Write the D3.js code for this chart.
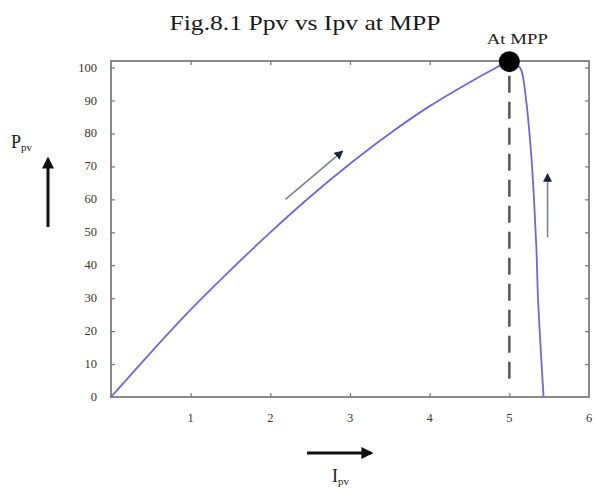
<!DOCTYPE html>
<html>
<head>
<meta charset="utf-8">
<script src="https://cdn.jsdelivr.net/npm/d3@7"></script>
<style>
  body { margin: 0; background: #fff; }
  text { font-family: "Liberation Serif", "DejaVu Serif", serif; }
</style>
</head>
<body>
<div id="chart"></div>
<script>
// current (A) and power (W)
var ipv = [0, 0.5, 1, 1.5, 2, 2.5, 3, 3.5, 4, 4.5, 4.8, 5, 5.1, 5.15, 5.21, 5.27, 5.31, 5.34, 5.36, 5.4, 5.43];
var ppv = [0, 13.5, 26.5, 38.5, 50, 60.8, 70.8, 80, 88.3, 95.5, 99.5, 101.8, 100.8, 99.2, 90.3, 75, 60, 45, 30, 12, 0];
var xTicks = [1, 2, 3, 4, 5, 6];
var yTicks = [0, 10, 20, 30, 40, 50, 60, 70, 80, 90, 100];
var mppI = 5, mppP = 101.8;

var W = 595, H = 491;
var margin = { top: 61, right: 6, bottom: 94, left: 111 },
    width = W - margin.left - margin.right,
    height = H - margin.top - margin.bottom;

var svg = d3.select("#chart").append("svg")
    .attr("width", W).attr("height", H);

var defs = svg.append("defs");
function marker(id, color, size) {
    defs.append("marker")
        .attr("id", id)
        .attr("viewBox", "0 0 10 10")
        .attr("refX", 8).attr("refY", 5)
        .attr("markerWidth", size).attr("markerHeight", size)
        .attr("markerUnits", "userSpaceOnUse")
        .attr("orient", "auto")
        .append("path")
        .attr("d", "M0,0 L10,5 L0,10 z")
        .attr("fill", color);
}
marker("headBlack", "#111", 12);
marker("headNavy", "#1c2340", 9);

var g = svg.append("g")
    .attr("transform", "translate(" + margin.left + "," + margin.top + ")");

var x = d3.scaleLinear().domain([0, 6]).range([0, width]);
var y = d3.scaleLinear().domain([0, 102]).range([height, 0]);

// inward ticks on all four sides
g.append("g")
    .attr("transform", "translate(0," + height + ")")
    .call(d3.axisBottom(x).tickValues(xTicks.slice(0, 5)).tickSize(-4).tickFormat(""));
g.append("g")
    .call(d3.axisTop(x).tickValues(xTicks.slice(0, 4)).tickSize(-4).tickFormat(""));
g.append("g")
    .call(d3.axisLeft(y).tickValues(yTicks.slice(1)).tickSize(-4).tickFormat(""));
g.append("g")
    .attr("transform", "translate(" + width + ",0)")
    .call(d3.axisRight(y).tickValues(yTicks.slice(1)).tickSize(-4).tickFormat(""));
g.selectAll(".domain").remove();
g.selectAll(".tick line").attr("stroke", "#777").attr("stroke-width", 1.2);

g.append("rect")
    .attr("width", width).attr("height", height)
    .attr("fill", "none")
    .attr("stroke", "#6e6e6e")
    .attr("stroke-width", 1.6);

// tick labels
g.selectAll(".xlab")
    .data(xTicks)
    .enter().append("text")
    .attr("x", function (d) { return x(d); })
    .attr("y", height + 25)
    .attr("text-anchor", "middle")
    .attr("font-size", 12.5)
    .attr("fill", "#3a3530")
    .text(function (d) { return d; });

g.selectAll(".ylab")
    .data(yTicks)
    .enter().append("text")
    .attr("x", -14)
    .attr("y", function (d) { return y(d) + 4; })
    .attr("text-anchor", "end")
    .attr("font-size", 12.5)
    .attr("fill", "#3a3530")
    .text(function (d) { return d; });

// dashed line at MPP
g.append("line")
    .attr("x1", x(mppI)).attr("x2", x(mppI))
    .attr("y1", y(mppP) + 14).attr("y2", height - 16)
    .attr("stroke", "#555")
    .attr("stroke-width", 2.5)
    .attr("stroke-dasharray", "17,9");

// P-I curve
var data = ipv.map(function (d, i) { return { i: d, p: ppv[i] }; });
var line = d3.line()
    .x(function (d) { return x(d.i); })
    .y(function (d) { return y(d.p); })
    .curve(d3.curveCatmullRom.alpha(0.5));
g.append("path")
    .datum(data)
    .attr("d", line)
    .attr("fill", "none")
    .attr("stroke", "#6d68dc")
    .attr("stroke-width", 1.8);

// MPP marker
g.append("circle")
    .attr("cx", x(mppI)).attr("cy", y(mppP))
    .attr("r", 10.5)
    .attr("fill", "#000");

g.append("text")
    .attr("x", x(mppI) + 8)
    .attr("y", -17)
    .attr("text-anchor", "middle")
    .attr("font-size", 15)
    .attr("textLength", 61)
    .attr("lengthAdjust", "spacingAndGlyphs")
    .attr("fill", "#222")
    .text("At MPP");

// direction arrows along the curve
g.append("line")
    .attr("x1", x(2.19)).attr("y1", y(60))
    .attr("x2", x(2.9)).attr("y2", y(74.5))
    .attr("stroke", "#7a7f8a").attr("stroke-width", 1.5)
    .attr("marker-end", "url(#headNavy)");
g.append("line")
    .attr("x1", x(5.48)).attr("y1", y(48.5))
    .attr("x2", x(5.48)).attr("y2", y(67.5))
    .attr("stroke", "#7a7f8a").attr("stroke-width", 1.5)
    .attr("marker-end", "url(#headNavy)");

// title
svg.append("text")
    .attr("x", 305).attr("y", 30)
    .attr("text-anchor", "middle")
    .attr("font-size", 22)
    .attr("textLength", 271)
    .attr("lengthAdjust", "spacingAndGlyphs")
    .attr("fill", "#1a1a1a")
    .text("Fig.8.1 Ppv vs Ipv at MPP");

// axis names with arrows
var pl = svg.append("text")
    .attr("x", 11).attr("y", 148)
    .attr("font-size", 18)
    .attr("fill", "#1a1a1a");
pl.append("tspan").text("P");
pl.append("tspan").attr("font-size", 11).attr("dy", 3).text("pv");

svg.append("line")
    .attr("x1", 48).attr("y1", 227)
    .attr("x2", 48).attr("y2", 159)
    .attr("stroke", "#111").attr("stroke-width", 3)
    .attr("marker-end", "url(#headBlack)");

svg.append("line")
    .attr("x1", 307).attr("y1", 453)
    .attr("x2", 371).attr("y2", 453)
    .attr("stroke", "#111").attr("stroke-width", 3)
    .attr("marker-end", "url(#headBlack)");

var il = svg.append("text")
    .attr("x", 332).attr("y", 482)
    .attr("font-size", 18)
    .attr("fill", "#1a1a1a");
il.append("tspan").text("I");
il.append("tspan").attr("font-size", 11).attr("dy", 3).text("pv");
</script>
</body>
</html>
